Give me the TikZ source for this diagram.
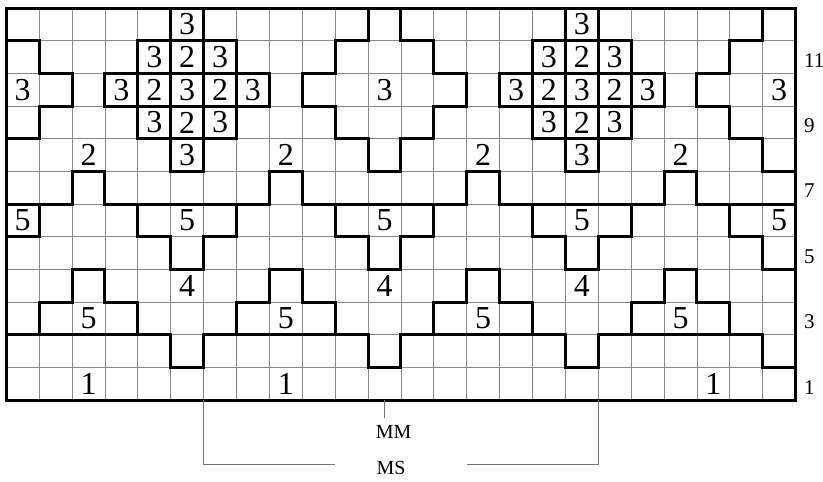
\documentclass[tikz,border=0pt]{standalone}
\usepackage{fontspec}
\setmainfont{Liberation Serif}
\usepackage{tikz}
\definecolor{GridGray}{HTML}{8A8A8A}
\definecolor{TagGray}{HTML}{767676}

\begin{document}
\begin{tikzpicture}[x=32.9pt, y=32.7pt,
  cellnum/.style={font=\fontsize{32}{32}\selectfont, inner sep=0pt},
  rownum/.style={font=\fontsize{21}{21}\selectfont, anchor=west, inner sep=0pt},
  tag/.style={font=\fontsize{20}{20}\selectfont, inner sep=0pt},
  thinline/.style={GridGray, line width=0.9pt},
  heavy/.style={line width=3pt, line join=miter, line cap=rect},
  tagline/.style={TagGray, line width=1pt}]
  \useasboundingbox (-0.1915,-2.492) rectangle (24.833,12.245);
  \draw[thinline, step=1] (0,0) grid (24,12);
  \begin{scope}
    \clip (0,0) rectangle (24,12);
    \foreach \c in {-1,5,11,17,23}
      \draw[heavy] (\c,12) -- (\c,11) -- (\c-1,11) -- (\c-1,10) -- (\c-2,10) -- (\c-2,9) -- (\c-1,9) -- (\c-1,8) -- (\c,8) -- (\c,7)
        -- (\c+1,7) -- (\c+1,8) -- (\c+2,8) -- (\c+2,9) -- (\c+3,9) -- (\c+3,10) -- (\c+2,10) -- (\c+2,11) -- (\c+1,11) -- (\c+1,12);
    \foreach \b in {2,8,14,20}
      \draw[heavy] (\b-3,6) -- (\b,6) -- (\b,7) -- (\b+1,7) -- (\b+1,6) -- (\b+4,6);
    \foreach \h in {-1,5,11,17,23}
      \draw[heavy] (\h-1,6) -- (\h-1,5) -- (\h,5) -- (\h,4) -- (\h+1,4) -- (\h+1,5) -- (\h+2,5) -- (\h+2,6);
    \foreach \m in {2,8,14,20}
      \draw[heavy] (\m-1,2) -- (\m-1,3) -- (\m,3) -- (\m,4) -- (\m+1,4) -- (\m+1,3) -- (\m+2,3) -- (\m+2,2);
    \foreach \n in {-1,5,11,17,23}
      \draw[heavy] (\n-3,2) -- (\n,2) -- (\n,1) -- (\n+1,1) -- (\n+1,2) -- (\n+4,2);
  \end{scope}
  \foreach \c in {5,17}
    \foreach \dx/\dy [count=\i] in {0/2,-1/1,0/1,1/1,-2/0,-1/0,0/0,1/0,2/0,-1/-1,0/-1,1/-1,0/-2} {
      \pgfmathtruncatemacro\v{3-mod(abs(\dx)+abs(\dy),2)}
      \draw[heavy] (\c+\dx,9+\dy) rectangle ++(1,1);
      \node[cellnum] (s\c-\i) at (\c+\dx+0.5,9.5+\dy) {\v};
    }
  \draw[heavy] (0,0) rectangle (24,12);
  \foreach \x [count=\i] in {0,11,23} \node[cellnum] (t\i) at (\x+0.5,9.5) {3};
  \foreach \x [count=\i] in {2,8,14,20} \node[cellnum] (w\i) at (\x+0.5,7.5) {2};
  \foreach \x [count=\i] in {0,5,11,17,23} \node[cellnum] (f\i) at (\x+0.5,5.5) {5};
  \foreach \x [count=\i] in {5,11,17} \node[cellnum] (q\i) at (\x+0.5,3.5) {4};
  \foreach \x [count=\i] in {2,8,14,20} \node[cellnum] (g\i) at (\x+0.5,2.5) {5};
  \foreach \x [count=\i] in {2,8,21} \node[cellnum] (o\i) at (\x+0.5,0.5) {1};
  \foreach \r in {1,3,5,7,9,11} \node[rownum] (r\r) at (24.25,\r-0.6) {\r};
  \coordinate (mmfoot) at (11.5,0);
  \coordinate (mmtip) at (11.5,-0.54);
  \node[tag] (mm) at (11.78,-0.98) {MM};
  \draw[tagline] (mmfoot) -- (mmtip);
  \coordinate (msl) at (6,0);
  \coordinate (msr) at (18,0);
  \coordinate (msla) at (10,-1.97);
  \coordinate (msra) at (14,-1.97);
  \node[tag] (ms) at (11.7,-2.06) {MS};
  \draw[tagline] (msl) |- (msla);
  \draw[tagline] (msr) |- (msra);
\end{tikzpicture}
\end{document}
